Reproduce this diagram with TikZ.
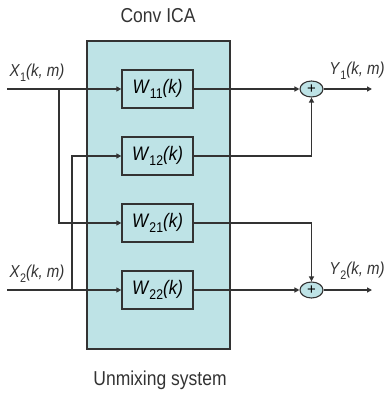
\documentclass[tikz,border=0pt]{standalone}
\usepackage{fontspec}
\setmainfont{Liberation Sans}
\usetikzlibrary{shapes.geometric,arrows.meta,calc}
\definecolor{panel}{HTML}{BEE3E6}
\definecolor{ink}{HTML}{333333}
\newcommand\tall[1]{\scalebox{1}[1.15]{#1}}
\newcommand\lowsub[2]{\raisebox{-#1}{\fontsize{0.72\dimexpr\fontdimen6\font\relax}{1}\selectfont #2}}
\begin{document}
\begin{tikzpicture}[x=1pt,y=-1pt,
  wire/.style={draw=ink,line width=1.3pt},
  flow/.style={wire,-{Triangle[length=5pt,width=5pt]}},
  filt/.style={draw=ink,line width=1.3pt,fill=panel,minimum width=71pt,minimum height=38pt,inner sep=0pt,
    font=\fontsize{17}{17}\selectfont},
  sumnode/.style={draw=ink,line width=1.1pt,fill=panel,ellipse,minimum width=23pt,minimum height=16pt,inner sep=0pt,
    font=\fontsize{15}{15}\selectfont},
  sig/.style={font=\fontsize{15}{15}\selectfont,inner sep=0pt,text=ink},
  caption/.style={font=\fontsize{17.5}{17.5}\selectfont,inner sep=0pt,text=ink}]
\useasboundingbox (0,0) rectangle (385,396);
% unmixing system panel
\node[draw=ink,line width=1.3pt,fill=panel,minimum width=143pt,minimum height=308pt,inner sep=0pt] (panelbox) at (158.5,195) {};
\node[caption] (title) at (158,16) {\tall{Conv ICA}};
\node[caption] (subtitle) at (160,380) {\tall{Unmixing system}};
% filters
\node[filt] (w11) at (157.5,89) {\tall{\textit{W}\lowsub{5pt}{11}\textit{(k)}}};
\node[filt] (w12) at (157.5,156) {\tall{\textit{W}\lowsub{5pt}{12}\textit{(k)}}};
\node[filt] (w21) at (157.5,223) {\tall{\textit{W}\lowsub{5pt}{21}\textit{(k)}}};
\node[filt] (w22) at (157.5,290) {\tall{\textit{W}\lowsub{5pt}{22}\textit{(k)}}};
% adders
\node[sumnode] (s1) at (311.5,89) {+};
\node[sumnode] (s2) at (311.5,290) {+};
% inputs and outputs
\coordinate (in1) at (7,89);
\coordinate (in2) at (7,290);
\coordinate (out1) at (372,89);
\coordinate (out2) at (372,290);
\coordinate (tap1) at (59,89);
\coordinate (tap2) at (72,290);
\node[sig] (x1) at (37,73) {\tall{\textit{X}\lowsub{4pt}{1}\textit{(k, m)}}};
\node[sig] (x2) at (37,274) {\tall{\textit{X}\lowsub{4pt}{2}\textit{(k, m)}}};
\node[sig] (y1) at (357,71) {\tall{\textit{Y}\lowsub{4pt}{1}\textit{(k, m)}}};
\node[sig] (y2) at (357,271) {\tall{\textit{Y}\lowsub{4pt}{2}\textit{(k, m)}}};
% input distribution
\draw[flow] (in1) -- (w11.west);
\draw[flow] (in2) -- (w22.west);
\draw[flow] (tap1) |- (w21.west);
\draw[flow] (tap2) |- (w12.west);
% filter outputs to adders
\draw[flow] (w11.east) -- (s1.west);
\draw[flow] (w22.east) -- (s2.west);
\draw[flow] (w12.east) -| (s1.south);
\draw[flow] (w21.east) -| (s2.north);
% adder outputs
\draw[flow] (s1.east) -- (out1);
\draw[flow] (s2.east) -- (out2);
\end{tikzpicture}
\end{document}
